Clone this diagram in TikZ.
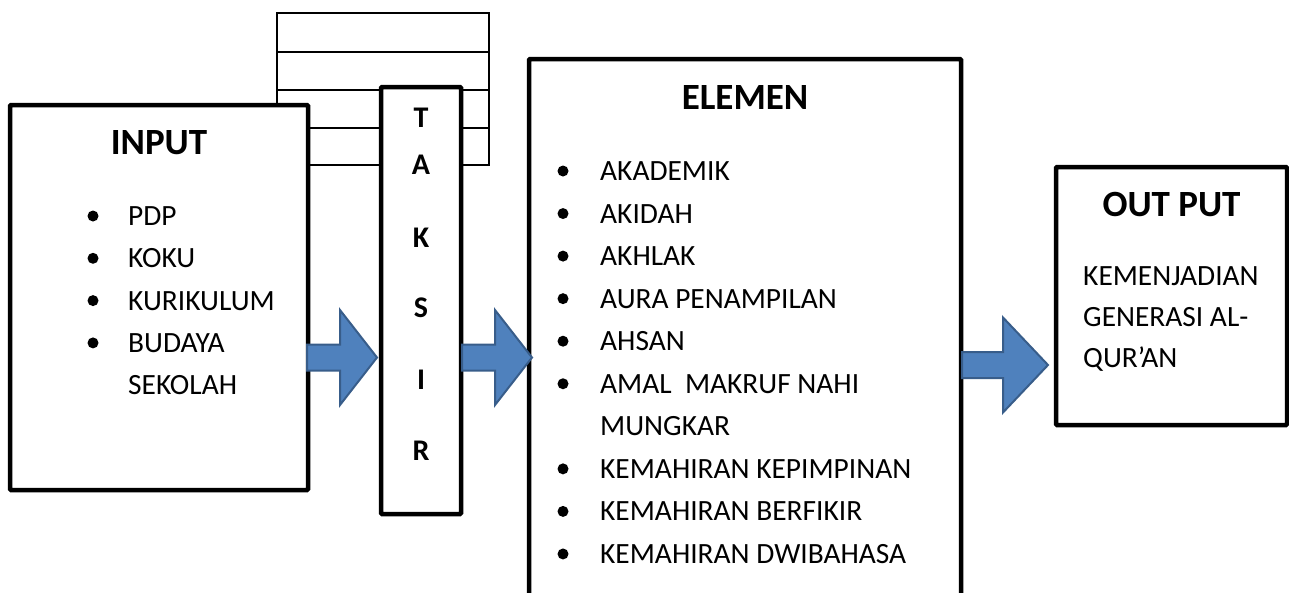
\documentclass[tikz,border=0pt]{standalone}
\usepackage{fontspec}
\setmainfont{Carlito}
\definecolor{arrowblue}{RGB}{79,129,189}
\definecolor{arrowedge}{RGB}{56,93,138}
\tikzset{
	box/.style={draw,line width=4.5pt,fill=white,rounded corners=1pt,inner sep=0pt},
	item/.style={anchor=west,inner sep=0pt,font=\fontsize{29.4}{31}\selectfont,text height=19pt,text depth=0pt},
	head/.style={inner sep=0pt,font=\fontsize{37}{40}\selectfont\bfseries,text height=24pt,text depth=0pt},
	letter/.style={inner sep=0pt,font=\fontsize{30}{32}\selectfont\bfseries,text height=19pt,text depth=0pt},
	dot/.style={circle,fill,inner sep=0pt,minimum size=11pt},
	blockarrow/.style={fill=arrowblue,draw=arrowedge,line width=2pt,line join=miter}
}
% block arrow: left end, head base, tip, middle height
\newcommand\flowarrow[4]{%
	\draw[blockarrow] (#1,{#4-13}) -- (#2,{#4-13}) -- (#2,{#4-47.5}) -- (#3,#4)
		-- (#2,{#4+47.5}) -- (#2,{#4+13}) -- (#1,{#4+13}) -- cycle;}
\begin{document}
\begin{tikzpicture}[x=1pt,y=-1pt]
\useasboundingbox (0,0) rectangle (1289,592);
% table behind the boxes
\draw[line width=2pt] (277,13) rectangle (489,165);
\foreach \y in {52,90,128}
	\draw[line width=2pt] (277,\y) -- (489,\y);
% boxes
\node[box,minimum width=298pt,minimum height=385pt] (input) at (159,297.5) {};
\node[box,minimum width=80pt,minimum height=427pt] (taksir) at (421,300.5) {};
\node[box,minimum width=432pt,minimum height=561pt] (elemen) at (745,339.5) {};
\node[box,minimum width=231pt,minimum height=258pt] (output) at (1171.5,296) {};
% arrows
\flowarrow{307}{340}{377}{357.5}
\flowarrow{462}{495}{532}{357.5}
\flowarrow{962}{1003}{1048}{365}
% input
\node[head] (inputtitle) at (159,142.5) {INPUT};
\foreach \t [count=\i] in {PDP,KOKU,KURIKULUM,BUDAYA}{
	\node[dot] (indot\i) at (93,{216+42.3*(\i-1)}) {};
	\node[item] (in\i) at (128,{216+42.3*(\i-1)}) {\t};
}
\node[item] (in5) at (128,385.2) {SEKOLAH};
% taksir
\foreach \l/\y in {T/118,A/165,K/238,S/308,I/380,R/451}
	\node[letter] (tk\l) at (421,\y) {\l};
% elemen
\node[head] (elementitle) at (745,97) {ELEMEN};
\foreach \t/\b [count=\i] in {AKADEMIK/1,AKIDAH/1,AKHLAK/1,AURA PENAMPILAN/1,AHSAN/1,
	AMAL~~MAKRUF NAHI/1,MUNGKAR/0,KEMAHIRAN KEPIMPINAN/1,KEMAHIRAN BERFIKIR/1,KEMAHIRAN DWIBAHASA/1}{
	\ifnum\b=1 \node[dot] (eldot\i) at (563,{171+42.55*(\i-1)}) {};\fi
	\node[item] (el\i) at (600,{171+42.55*(\i-1)}) {\t};
}
% output
\node[head] (outputtitle) at (1171.5,204) {OUT PUT};
\node[item] (out1) at (1083,276) {KEMENJADIAN};
\node[item] (out2) at (1083,317) {GENERASI AL-};
\node[item] (out3) at (1083,358) {QUR’AN};
\end{tikzpicture}
\end{document}
